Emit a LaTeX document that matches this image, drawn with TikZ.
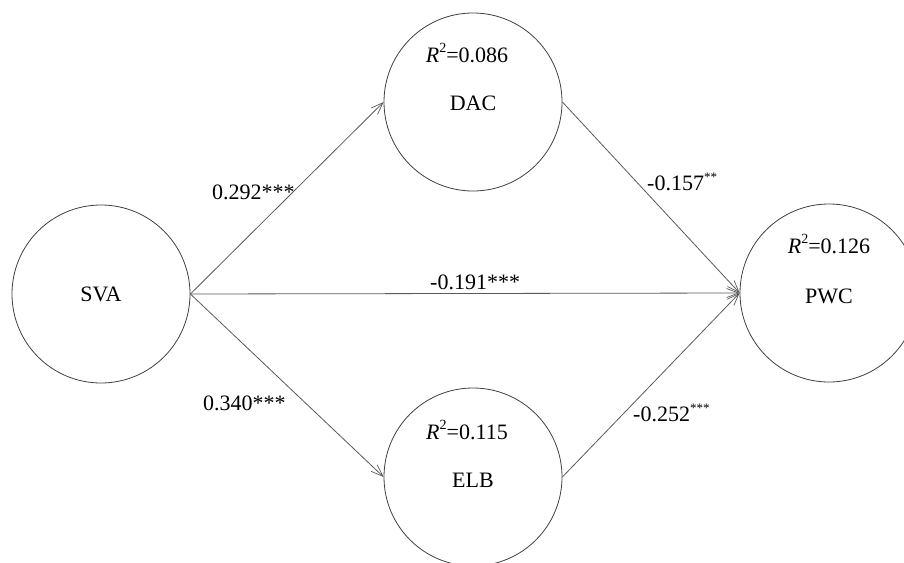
\documentclass[tikz,border=0pt]{standalone}
\usepackage{fontspec}
\setmainfont{Liberation Serif}
\usetikzlibrary{arrows.meta}
\tikzset{
  var/.style={circle, draw=black!75, line width=0.8pt, minimum size=178pt, inner sep=0pt},
  txt/.style={font=\fontsize{22}{26}\selectfont, inner sep=0pt, text=black},
  path/.style={draw=black!65, line width=0.8pt, -{Straight Barb[length=12pt, width=9pt, line width=0.7pt]}},
}
\newcommand{\rsq}[1]{\textit{R}\raisebox{0.45em}{\fontsize{14}{16}\selectfont 2}=#1}
\begin{document}
\begin{tikzpicture}[x=1pt,y=-1pt]
\useasboundingbox (0,0) rectangle (904,562);
\node[var] (SVA) at (101,294) {};
\node[var] (DAC) at (473,102) {};
\node[var] (ELB) at (473,477) {};
\node[var] (PWC) at (829,293) {};
\node[txt] (SVAt) at (101,294) {SVA};
\node[txt] (DACt) at (473,103) {DAC};
\node[txt] (DACr) at (467,53) {\rsq{0.086}};
\node[txt] (ELBt) at (473,480) {ELB};
\node[txt] (ELBr) at (467,430) {\rsq{0.115}};
\node[txt] (PWCt) at (829,296) {PWC};
\node[txt] (PWCr) at (829,244) {\rsq{0.126}};
\draw[path] (SVA.east) -- (DAC.west);
\draw[path] (SVA.east) -- (ELB.west);
\draw[path] (SVA.east) -- (PWC.west);
\draw[path] (DAC.east) -- (PWC.west);
\draw[path] (ELB.east) -- (PWC.west);
\node[txt, anchor=west] (l1) at (212,192) {0.292***};
\node[txt, anchor=west] (l2) at (203,403) {0.340***};
\node[txt, anchor=west] (l3) at (430,282) {-0.191***};
\node[txt, anchor=west] (l4) at (647,182) {-0.157\raisebox{0.4em}{\fontsize{13}{15}\selectfont **}};
\node[txt, anchor=west] (l5) at (633,413) {-0.252\raisebox{0.4em}{\fontsize{13}{15}\selectfont ***}};
\end{tikzpicture}
\end{document}
